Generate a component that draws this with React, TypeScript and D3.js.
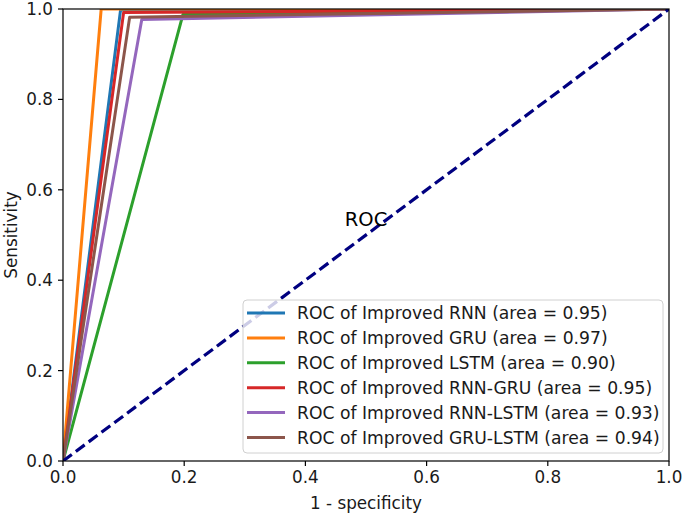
import React from 'react';
import * as d3 from 'd3';

// ROC operating points: each curve goes (0,0) -> (fpr, tpr) -> (1,1)
const MODELS = ['Improved RNN', 'Improved GRU', 'Improved LSTM', 'Improved RNN-GRU', 'Improved RNN-LSTM', 'Improved GRU-LSTM'];
const AREAS = ['0.95', '0.97', '0.90', '0.95', '0.93', '0.94'];
const FPR = [0.095, 0.063, 0.198, 0.1, 0.13, 0.11];
const TPR = [0.998, 1.0, 0.988, 0.992, 0.977, 0.982];
const COLORS = ['#1f77b4', '#ff7f0e', '#2ca02c', '#d62728', '#9467bd', '#8c564b'];
const TICKS = [0, 0.2, 0.4, 0.6, 0.8, 1.0];

const W = 685;
const H = 516;
const MARGIN = { top: 9, right: 16, bottom: 55, left: 63 };
const FONT = '"DejaVu Sans", sans-serif';
const FS = 16.8;

const App: React.FC = () => {
  const x = d3.scaleLinear().domain([0, 1]).range([MARGIN.left, W - MARGIN.right]);
  const y = d3.scaleLinear().domain([0, 1]).range([H - MARGIN.bottom, MARGIN.top]);
  const line = d3.line<[number, number]>().x(d => x(d[0])).y(d => y(d[1]));

  const x0 = x(0), x1 = x(1), y0 = y(0), y1 = y(1);

  // legend box
  const lg = { x: 243, y: 300, w: 420, h: 153 };
  const rowH = 24.9;

  return (
    <svg width={W} height={H} style={{ position: 'absolute', left: 0, top: 0, background: '#fff' }}
      fontFamily={FONT}>
      <defs>
        <clipPath id="plot">
          <rect x={x0} y={y1} width={x1 - x0} height={y0 - y1} />
        </clipPath>
      </defs>

      <g clipPath="url(#plot)">
        {MODELS.map((m, i) => (
          <path key={m} d={line([[0, 0], [FPR[i], TPR[i]], [1, 1]]) || ''}
            fill="none" stroke={COLORS[i]} strokeWidth={3} strokeLinejoin="round" />
        ))}
        <path d={line([[0, 0], [1, 1]]) || ''} fill="none" stroke="#000080"
          strokeWidth={3.2} strokeDasharray="11,5" />
      </g>

      <text x={x(0.465)} y={y(0.52)} fontSize={19.5} fill="#000">ROC</text>

      {/* legend */}
      <rect x={lg.x} y={lg.y} width={lg.w} height={lg.h} rx={4} fill="#fff" fillOpacity={0.8}
        stroke="#d0d0d0" strokeWidth={1} />
      {MODELS.map((m, i) => {
        const cy = lg.y + 13 + i * rowH;
        return (
          <g key={m}>
            <line x1={lg.x + 4} x2={lg.x + 42} y1={cy} y2={cy} stroke={COLORS[i]} strokeWidth={3} />
            <text x={lg.x + 54} y={cy} dy="0.36em" fontSize={17.2} fill="#1a1a1a">
              {`ROC of ${m} (area = ${AREAS[i]})`}
            </text>
          </g>
        );
      })}

      {/* spines */}
      <rect x={x0} y={y1} width={x1 - x0} height={y0 - y1} fill="none" stroke="#000" strokeWidth={1.2} />

      {/* x axis */}
      {TICKS.map(t => (
        <g key={'x' + t}>
          <line x1={x(t)} x2={x(t)} y1={y0} y2={y0 + 5} stroke="#000" strokeWidth={1.2} />
          <text x={x(t)} y={y0 + 16} dy="0.36em" textAnchor="middle" fontSize={FS} fill="#1a1a1a">{t.toFixed(1)}</text>
        </g>
      ))}
      <text x={(x0 + x1) / 2} y={503} dy="0.36em" textAnchor="middle" fontSize={FS} fill="#1a1a1a">1 - specificity</text>

      {/* y axis */}
      {TICKS.map(t => (
        <g key={'y' + t}>
          <line x1={x0 - 5} x2={x0} y1={y(t)} y2={y(t)} stroke="#000" strokeWidth={1.2} />
          <text x={x0 - 10} y={y(t)} dy="0.36em" textAnchor="end" fontSize={FS} fill="#1a1a1a">{t.toFixed(1)}</text>
        </g>
      ))}
      <text transform={`translate(11,${(y0 + y1) / 2}) rotate(-90)`} dy="0.36em" textAnchor="middle"
        fontSize={FS} fill="#1a1a1a">Sensitivity</text>
    </svg>
  );
};

export default App;
